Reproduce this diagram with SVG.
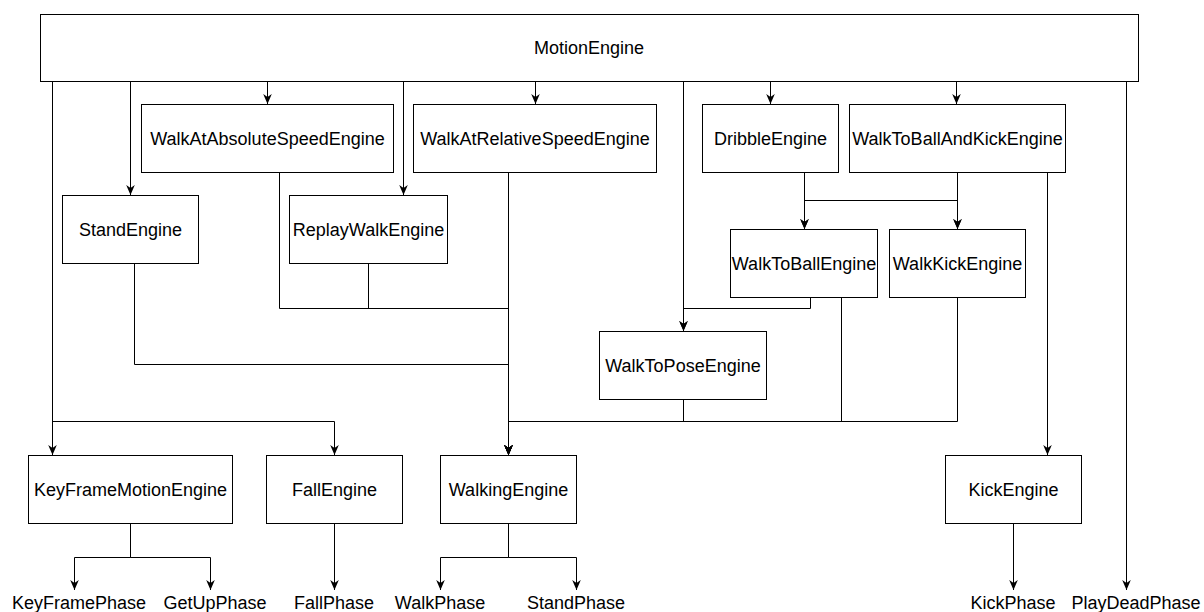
<svg xmlns="http://www.w3.org/2000/svg" width="1204" height="612" viewBox="0 0 1204 612">
<style>
.box{fill:#fff;stroke:#000;stroke-width:1}
.t{font-family:"Liberation Sans",Arial,Helvetica,sans-serif;font-size:18px;fill:#000;text-anchor:middle}
.e{fill:none;stroke:#000;stroke-width:1}
.a{marker-end:url(#arr)}
</style>
<defs>
<marker id="arr" viewBox="0 0 10 10" markerWidth="10" markerHeight="10" refX="10" refY="5" orient="auto" markerUnits="userSpaceOnUse">
<path d="M0,0.7 L10,5 L0,9.3 L3,5 z" fill="#000"/>
</marker>
</defs>
<rect width="1204" height="612" fill="#fff"/>
<g id="connectors">
<path class="e a" d="M52.5,81 V455"/>
<path class="e a" d="M52.5,81 V421.5 H334.5 V455"/>
<path class="e a" d="M130.5,81 V195"/>
<path class="e a" d="M267.5,81 V104"/>
<path class="e a" d="M403.5,81 V195"/>
<path class="e a" d="M535.5,81 V104"/>
<path class="e a" d="M683.5,81 V331"/>
<path class="e a" d="M770.5,81 V104"/>
<path class="e a" d="M956.5,81 V104"/>
<path class="e a" d="M1126.5,81 V590"/>
<path class="e a" d="M279.5,172 V308.5 H508.5 V455"/>
<path class="e a" d="M368.5,263 V308.5 H508.5 V455"/>
<path class="e a" d="M508.5,172 V455"/>
<path class="e a" d="M134.5,263 V364.5 H508.5 V455"/>
<path class="e a" d="M683.5,399 V421.5 H508.5 V455"/>
<path class="e a" d="M841.5,297 V421.5 H508.5 V455"/>
<path class="e a" d="M957.5,297 V421.5 H508.5 V455"/>
<path class="e a" d="M810.5,297 V308.5 H683.5 V331"/>
<path class="e a" d="M804.5,172 V229"/>
<path class="e a" d="M804.5,172 V200.5 H957.5 V229"/>
<path class="e a" d="M957.5,172 V200.5 H804.5 V229"/>
<path class="e a" d="M957.5,172 V229"/>
<path class="e a" d="M1047.5,172 V455"/>
<path class="e a" d="M130.5,523 V557.5 H74.5 V590"/>
<path class="e a" d="M130.5,523 V557.5 H210.5 V590"/>
<path class="e a" d="M334.5,523 V590"/>
<path class="e a" d="M508.5,523 V557.5 H440.5 V590"/>
<path class="e a" d="M508.5,523 V557.5 H576.5 V590"/>
<path class="e a" d="M1013.5,523 V590"/>
</g>
<g id="MotionEngine"><rect class="box" x="40.5" y="14.5" width="1098" height="67"/><text class="t" x="589" y="54">MotionEngine</text></g>
<g id="WalkAtAbsoluteSpeedEngine"><rect class="box" x="141.5" y="104.5" width="252" height="68"/><text class="t" x="267.5" y="144.5">WalkAtAbsoluteSpeedEngine</text></g>
<g id="WalkAtRelativeSpeedEngine"><rect class="box" x="413.5" y="104.5" width="243" height="68"/><text class="t" x="535" y="144.5">WalkAtRelativeSpeedEngine</text></g>
<g id="DribbleEngine"><rect class="box" x="702.5" y="104.5" width="136" height="68"/><text class="t" x="770.5" y="144.5">DribbleEngine</text></g>
<g id="WalkToBallAndKickEngine"><rect class="box" x="849.5" y="104.5" width="216" height="68"/><text class="t" x="957.5" y="144.5">WalkToBallAndKickEngine</text></g>
<g id="StandEngine"><rect class="box" x="62.5" y="195.5" width="136" height="68"/><text class="t" x="130.5" y="235.5">StandEngine</text></g>
<g id="ReplayWalkEngine"><rect class="box" x="289.5" y="195.5" width="158" height="68"/><text class="t" x="368.5" y="235.5">ReplayWalkEngine</text></g>
<g id="WalkToBallEngine"><rect class="box" x="730.5" y="229.5" width="147" height="68"/><text class="t" x="804" y="269.5">WalkToBallEngine</text></g>
<g id="WalkKickEngine"><rect class="box" x="889.5" y="229.5" width="136" height="68"/><text class="t" x="957.5" y="269.5">WalkKickEngine</text></g>
<g id="WalkToPoseEngine"><rect class="box" x="599.5" y="331.5" width="167" height="68"/><text class="t" x="683" y="371.5">WalkToPoseEngine</text></g>
<g id="KeyFrameMotionEngine"><rect class="box" x="28.5" y="455.5" width="204" height="68"/><text class="t" x="130.5" y="495.5">KeyFrameMotionEngine</text></g>
<g id="FallEngine"><rect class="box" x="266.5" y="455.5" width="136" height="68"/><text class="t" x="334.5" y="495.5">FallEngine</text></g>
<g id="WalkingEngine"><rect class="box" x="440.5" y="455.5" width="136" height="68"/><text class="t" x="508.5" y="495.5">WalkingEngine</text></g>
<g id="KickEngine"><rect class="box" x="945.5" y="455.5" width="136" height="68"/><text class="t" x="1013.5" y="495.5">KickEngine</text></g>
<g id="KeyFramePhase"><text class="t" x="79" y="609">KeyFramePhase</text></g>
<g id="GetUpPhase"><text class="t" x="215" y="609">GetUpPhase</text></g>
<g id="FallPhase"><text class="t" x="334" y="609">FallPhase</text></g>
<g id="WalkPhase"><text class="t" x="440" y="609">WalkPhase</text></g>
<g id="StandPhase"><text class="t" x="576" y="609">StandPhase</text></g>
<g id="KickPhase"><text class="t" x="1013" y="609">KickPhase</text></g>
<g id="PlayDeadPhase"><text class="t" x="1136" y="609">PlayDeadPhase</text></g>
</svg>
